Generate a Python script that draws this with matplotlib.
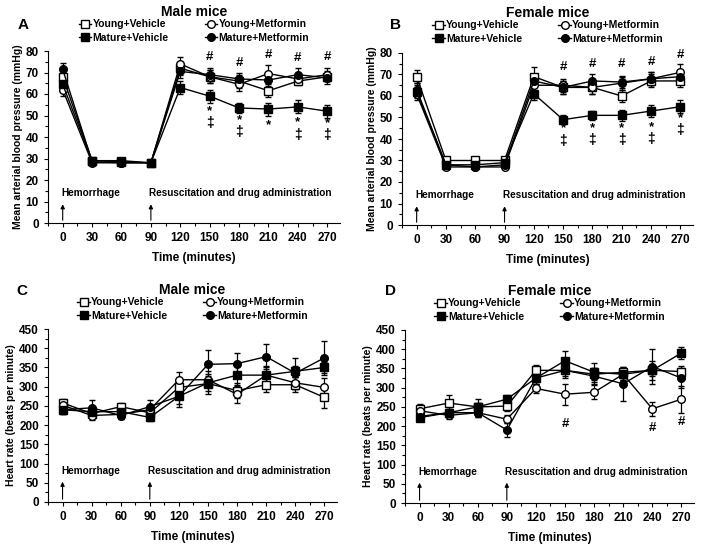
import numpy as np
import matplotlib.pyplot as plt
from matplotlib.ticker import MultipleLocator
from matplotlib.lines import Line2D

plt.rcParams['font.family'] = ['Liberation Sans', 'DejaVu Sans']
plt.rcParams['font.weight'] = 'bold'

time = [0, 30, 60, 90, 120, 150, 180, 210, 240, 270]
groups = ["Young+Vehicle", "Young+Metformin", "Mature+Vehicle", "Mature+Metformin"]

# mean arterial pressure, male
map_male = {
    "Young+Vehicle":    [68, 29, 28.5, 28, 72, 68, 66, 61.5, 66, 68],
    "Young+Metformin":  [62, 28, 28, 28, 74, 68, 64.5, 69.5, 67, 69],
    "Mature+Vehicle":   [64.5, 29, 29, 28, 63, 59, 53.5, 53, 54, 52],
    "Mature+Metformin": [71.5, 28.5, 28, 28, 70.5, 69, 67, 66.5, 69, 67.5],
}
map_male_err = {
    "Young+Vehicle":    [3, 1, 1, 1, 3, 3, 3, 3, 2, 2],
    "Young+Metformin":  [3, 1, 1, 1, 3, 3, 3, 4, 2, 3],
    "Mature+Vehicle":   [3, 1, 1, 1, 3, 3, 2.5, 3, 3, 3],
    "Mature+Metformin": [3, 1, 1, 1, 3, 3, 3, 3, 3, 3],
}

# mean arterial pressure, female
map_female = {
    "Young+Vehicle":    [69, 30, 30, 30, 69, 64, 64, 60, 67, 67],
    "Young+Metformin":  [61, 27, 27, 27, 65, 65, 64, 66, 68, 71],
    "Mature+Vehicle":   [62, 28, 28, 29, 61, 49, 51, 51, 53, 55],
    "Mature+Metformin": [63, 28, 27, 28, 67, 64, 67, 66.5, 68, 69],
}
map_female_err = {
    "Young+Vehicle":    [3, 1, 1, 1, 4.5, 3, 3, 3, 3, 3],
    "Young+Metformin":  [3, 1, 1, 1, 3, 3, 3, 3, 3, 4],
    "Mature+Vehicle":   [3, 1, 1, 1, 3, 2, 2, 2.5, 3, 3],
    "Mature+Metformin": [3, 1, 1, 1, 3, 3, 3, 3, 3, 3],
}

# heart rate, male
hr_male = {
    "Young+Vehicle":    [258, 230, 248, 232, 298, 308, 290, 305, 305, 272],
    "Young+Metformin":  [252, 225, 228, 240, 318, 318, 280, 330, 310, 298],
    "Mature+Vehicle":   [240, 235, 235, 220, 275, 310, 330, 330, 340, 350],
    "Mature+Metformin": [240, 245, 225, 248, 275, 358, 360, 378, 335, 375],
}
hr_male_err = {
    "Young+Vehicle":    [10, 10, 10, 10, 20, 20, 20, 18, 20, 28],
    "Young+Metformin":  [10, 12, 10, 10, 20, 15, 22, 20, 15, 25],
    "Mature+Vehicle":   [10, 12, 10, 10, 28, 30, 25, 25, 15, 15],
    "Mature+Metformin": [10, 20, 10, 18, 20, 37, 28, 32, 40, 45],
}

# heart rate, female
hr_female = {
    "Young+Vehicle":    [245, 260, 250, 252, 345, 345, 335, 340, 345, 342],
    "Young+Metformin":  [240, 228, 235, 218, 298, 283, 288, 335, 245, 270],
    "Mature+Vehicle":   [222, 235, 250, 270, 325, 370, 340, 335, 345, 390],
    "Mature+Metformin": [225, 235, 235, 190, 325, 345, 330, 310, 355, 325],
}
hr_female_err = {
    "Young+Vehicle":    [12, 22, 10, 12, 15, 15, 15, 15, 15, 15],
    "Young+Metformin":  [10, 10, 10, 10, 12, 27, 18, 15, 18, 35],
    "Mature+Vehicle":   [10, 10, 20, 10, 15, 25, 25, 15, 25, 15],
    "Mature+Metformin": [10, 10, 10, 18, 15, 20, 20, 45, 45, 25],
}

# significance marks: (time, y, symbol)
marks_a = [(150, 77.4, "#"), (180, 74.5, "#"), (210, 78, "#"), (240, 76.6, "#"), (270, 77, "#"),
           (150, 52, "*"), (150, 46.5, "‡"), (180, 48, "*"), (180, 42.5, "‡"),
           (210, 45.5, "*"), (240, 47, "*"), (240, 41, "‡"), (270, 46.5, "*"), (270, 41, "‡")]
marks_b = [(150, 73.5, "#"), (180, 75, "#"), (210, 75, "#"), (240, 76, "#"), (270, 79, "#"),
           (150, 45, "*"), (150, 39, "‡"), (180, 45, "*"), (180, 39.5, "‡"),
           (210, 45, "*"), (210, 39.5, "‡"), (240, 45.5, "*"), (240, 40, "‡"),
           (270, 49.5, "*"), (270, 44, "‡")]
marks_c = []
marks_d = [(150, 205, "#"), (240, 195, "#"), (270, 210, "#")]

styles = {
    "Young+Vehicle":    dict(marker="s", mfc="white"),
    "Young+Metformin":  dict(marker="o", mfc="white"),
    "Mature+Vehicle":   dict(marker="s", mfc="black"),
    "Mature+Metformin": dict(marker="o", mfc="black"),
}

W, H = 704, 547
fig = plt.figure(figsize=(W / 100, H / 100), dpi=100)

panels = [
    # letter, title, box in pixels (l, r, top, bottom), data, err, ymax, ystep, ylabel, marks,
    # letter pos, title y, arrow tip y, note text y
    ("A", "Male mice", (48, 340, 51, 223), map_male, map_male_err, 80, 10,
     "Mean arterial blood pressure (mmHg)", marks_a, (18, 25), 12, 10, 11.5),
    ("B", "Female mice", (402, 693, 53, 225), map_female, map_female_err, 80, 10,
     "Mean arterial blood pressure (mmHg)", marks_b, (390, 25), 13, 10, 11.5),
    ("C", "Male mice", (48, 337, 329, 502), hr_male, hr_male_err, 450, 50,
     "Heart rate (beats per minute)", marks_c, (16, 291), 290, 60, 68),
    ("D", "Female mice", (405, 694, 330, 503), hr_female, hr_female_err, 450, 50,
     "Heart rate (beats per minute)", marks_d, (385, 291), 291, 60, 68),
]

for (letter, title, box, data, err, ymax, ystep, ylabel, marks, lpos, ty, arr_y, txt_y) in panels:
    l, r, t, b = box
    ax = fig.add_axes([l / W, 1 - b / H, (r - l) / W, (b - t) / H])
    for g in groups:
        ax.errorbar(time, data[g], yerr=err[g], color="black", lw=1,
                    ms=5.5, mec="black", mew=1, capsize=2, elinewidth=0.9,
                    **styles[g])
    ax.set_xlim(-15, 283)
    ax.set_ylim(0, ymax)
    ax.set_xticks(time)
    ax.xaxis.set_minor_locator(MultipleLocator(15))
    ax.yaxis.set_major_locator(MultipleLocator(ystep))
    ax.yaxis.set_minor_locator(MultipleLocator(ystep / 2))
    ax.tick_params(axis="both", which="major", labelsize=8.5, length=3, width=0.8, direction="out")
    ax.tick_params(axis="both", which="minor", length=2, width=0.8, direction="out")
    for s in ["top", "right"]:
        ax.spines[s].set_visible(False)
    ax.set_xlabel("Time (minutes)", fontsize=8.5, fontweight="bold", labelpad=6)
    ax.set_ylabel(ylabel, fontsize=7.5, fontweight="bold", labelpad=2)

    for (tx, tyy, sym) in marks:
        ax.text(tx, tyy, sym, ha="center", va="center",
                fontsize=10 if sym == "‡" else 9.5, fontweight="bold")

    ax.annotate("", xy=(0, arr_y), xytext=(0, 0),
                arrowprops=dict(arrowstyle="-|>", color="black", lw=0.8, mutation_scale=6))
    ax.annotate("", xy=(90, arr_y), xytext=(90, 0),
                arrowprops=dict(arrowstyle="-|>", color="black", lw=0.8, mutation_scale=6))
    ax.text(-1, txt_y, "Hemorrhage", fontsize=7.2, fontweight="bold", va="bottom", ha="left")
    ax.text(88, txt_y, "Resuscitation and drug administration", fontsize=7.2,
            fontweight="bold", va="bottom", ha="left")

    cx = (l + r) / 2 / W
    fig.text(cx, 1 - ty / H, title, ha="center", va="center", fontsize=10, fontweight="bold")
    fig.text(lpos[0] / W, 1 - lpos[1] / H, letter, ha="left", va="center", fontsize=11, fontweight="bold")

    order = ["Young+Vehicle", "Mature+Vehicle", "Young+Metformin", "Mature+Metformin"]
    handles = [Line2D([], [], color="black", lw=1, ms=5.5, mec="black", mew=1, **styles[g])
               for g in order]
    ax.legend(handles, order, ncol=2, loc="center",
              bbox_to_anchor=(cx, 1 - (ty + 19) / H), bbox_transform=fig.transFigure,
              frameon=False, handlelength=1.2, handletextpad=0.1,
              columnspacing=3.5, labelspacing=0.3, borderpad=0,
              prop=dict(weight="bold", size=7.5))

fig.savefig("out.png", dpi=100)
